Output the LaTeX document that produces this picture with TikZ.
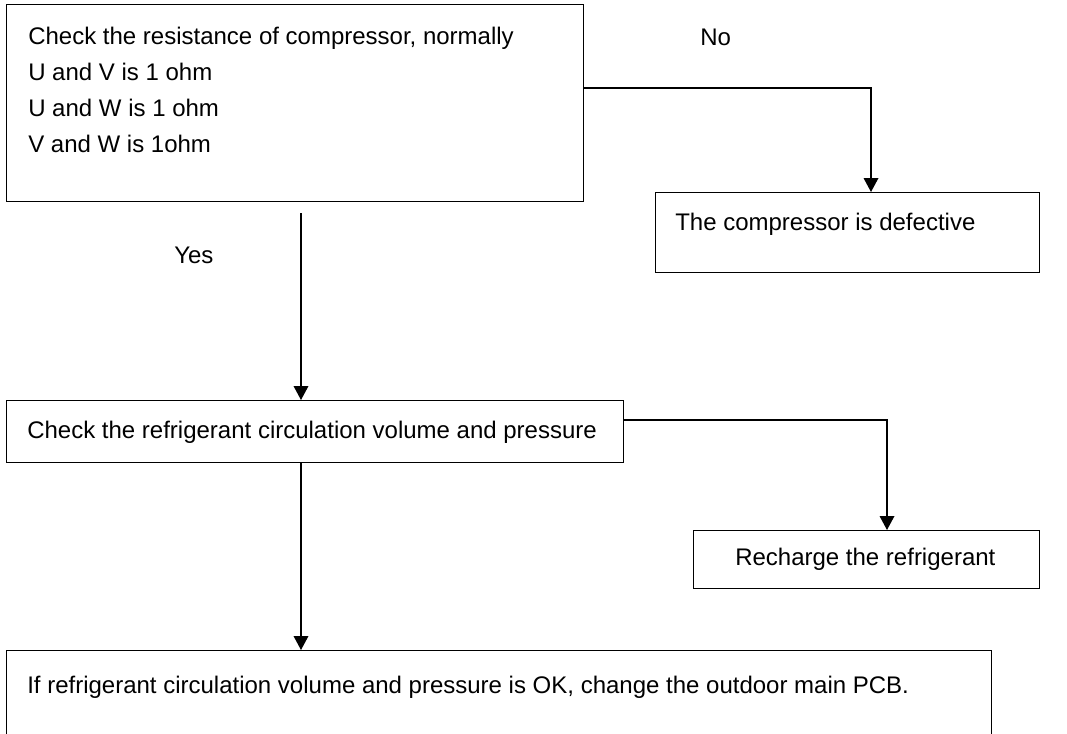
\documentclass[tikz,border=0pt]{standalone}
\usepackage{fontspec}
\setmainfont{Liberation Sans}
\usetikzlibrary{arrows.meta}
\begin{document}
\begin{tikzpicture}[x=0.75pt,y=0.75pt,yscale=-1,xscale=1,
  every node/.style={font=\fontsize{18pt}{27pt}\selectfont},
  flowbox/.style={draw, line width=1pt, rectangle, inner sep=0pt, anchor=north west},
  lbl/.style={inner sep=0pt, anchor=west, align=left},
  arr/.style={line width=1pt, -{Triangle[length=10.5pt,width=11pt]}}]
  \useasboundingbox (0,0) rectangle (1067,733);
  %Shape: Rectangle [resistance check]
  \node (resist) [flowbox, minimum width=432.75pt, minimum height=147.75pt] at (6,4) {};
  %Shape: Rectangle [compressor defective]
  \node (defect) [flowbox, minimum width=288pt, minimum height=60pt] at (655,192) {};
  %Shape: Rectangle [refrigerant check]
  \node (volume) [flowbox, minimum width=462.75pt, minimum height=46.5pt] at (6,400) {};
  %Shape: Rectangle [recharge]
  \node (recharge) [flowbox, minimum width=259.5pt, minimum height=43.5pt] at (693,530) {};
  %Shape: Rectangle [change PCB], runs past the lower edge
  \node (pcb) [flowbox, minimum width=738.75pt, minimum height=63pt] at (6,650) {};
  \coordinate (noturn) at (871,88);
  \coordinate (yestop) at (301,213);
  \coordinate (rchturn) at (887,420);
  %Straight Lines
  \draw [arr] (resist.east |- noturn) -- (noturn) -- (noturn |- defect.north);
  %Straight Lines
  \draw [arr] (yestop) -- (yestop |- volume.north);
  %Straight Lines
  \draw [arr] (volume.east |- rchturn) -- (rchturn) -- (rchturn |- recharge.north);
  %Straight Lines
  \draw [arr] (volume.south -| yestop) -- (yestop |- pcb.north);

  % Text Node
  \node (resisttext) [lbl, anchor=north west] at (28,27) {Check the resistance of compressor, normally\\U and V is 1 ohm\\U and W is 1 ohm\\V and W is 1ohm};
  % Text Node
  \node (notext) [lbl] at (700,37) {No};
  % Text Node
  \node (defecttext) [lbl] at (675,224) {The compressor is defective};
  % Text Node
  \node (yestext) [lbl] at (174,255) {Yes};
  % Text Node
  \node (volumetext) [lbl] at (27,432) {Check the refrigerant circulation volume and pressure};
  % Text Node
  \node (rechargetext) [lbl] at (735,559) {Recharge the refrigerant};
  % Text Node
  \node (pcbtext) [lbl] at (27,687) {If refrigerant circulation volume and pressure is OK, change the outdoor main PCB.};
\end{tikzpicture}
\end{document}
